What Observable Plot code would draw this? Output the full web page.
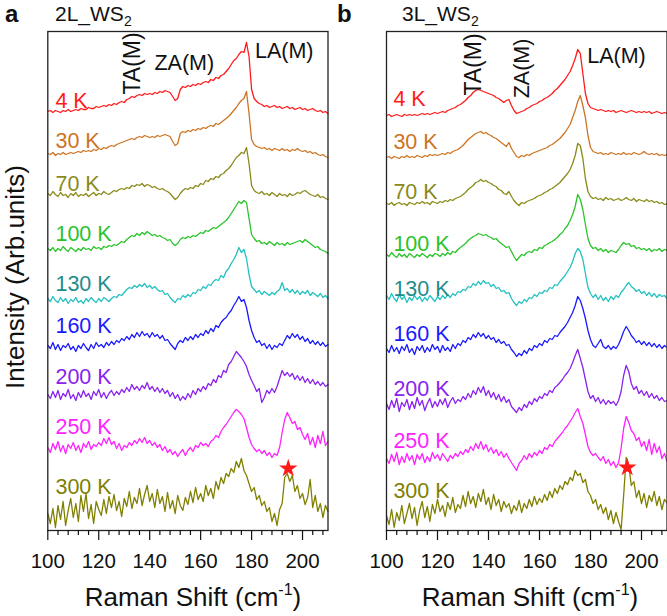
<!DOCTYPE html>
<html><head><meta charset="utf-8">
<script src="https://cdn.jsdelivr.net/npm/d3@7"></script>
<script src="https://cdn.jsdelivr.net/npm/@observablehq/plot@0.6"></script>
<style>
body{margin:0;background:#fff;}
#chart{position:relative;width:667px;height:616px;font-family:"Liberation Sans",Arial,sans-serif;}
#chart svg{position:absolute;top:0;overflow:visible;}
</style>
</head><body><div id="chart"></div>
<script>
// ---------- data ----------
const temps = ["4 K","30 K","70 K","100 K","130 K","160 K","200 K","250 K","300 K"];
const shift = d3.range(100, 211); // Raman shift grid, cm^-1 (1 cm^-1 step)
const majorTicks = [100,120,140,160,180,200];
const minorTicks = [104,108,112,116,124,128,132,136,144,148,152,156,164,168,172,176,184,188,192,196,204,208];

// panel a (2L_WS2) spectra, intensity relative to each trace's own baseline (arb.)
const a4 = [0,1,-1,1,0,-1,1,0,2,0, 1,2,1,3,2,2,4,3,3,5, 4,5,6,5,7,6,8,7,9,10, 9,12,13,15,14,16,17,16,18,17, 18,17,19,18,20,19,21,20,19,15, 11,13,22,25,24,26,25,27,26,28, 27,29,30,29,32,31,34,33,36,37, 40,43,47,51,53,57,60,59,69,55, 22,13,10,8,7,5,6,4,5,6, 4,5,3,4,5,3,4,2,3,4, 2,3,1,2,3,1,0,1,-1,0, -2];
const a30 = [0,-1,1,-2,0,-1,1,-1,0,1, 0,1,2,1,3,2,3,2,4,3, 5,4,6,5,7,8,7,9,10,11, 12,13,14,15,14,16,17,16,18,17, 16,17,16,18,17,18,19,18,17,12, 8,10,20,22,21,23,22,24,23,25, 24,26,25,27,28,27,30,29,31,33, 35,37,40,43,46,50,53,55,62,40, 14,9,7,6,5,6,4,5,3,5, 4,3,5,3,4,2,4,3,5,3, 2,3,1,2,0,1,-1,-2,-1,-3, -4];
const a70 = [0,-2,2,-1,-3,1,-2,-1,-4,0, -2,1,-3,-1,-2,0,-3,-1,1,-2, 0,-1,2,0,-1,1,3,2,4,5, 4,6,5,8,7,9,8,10,7,9, 8,6,7,5,4,5,3,2,0,-3, -6,-4,0,3,5,4,6,5,8,7, 10,9,13,12,15,14,17,16,19,20, 23,25,28,32,36,38,41,40,46,30, 8,3,1,0,2,-1,0,-2,1,-1, -3,0,-2,-1,-3,0,-2,-1,1,0, 2,3,1,-1,-2,-3,-1,-4,-3,-5, -6];
const a100 = [0,-2,1,-3,0,-2,2,-1,-3,1, -1,-3,0,-2,1,-1,0,-2,2,0, 1,-1,2,1,3,2,4,3,5,7, 6,9,11,13,12,15,13,16,14,17, 15,13,14,12,13,11,10,8,9,5, 3,5,9,11,10,12,11,13,12,14, 16,15,18,17,19,21,20,22,24,26, 28,31,35,39,43,47,45,48,46,30, 14,10,7,8,5,6,4,7,5,3, 6,4,5,3,6,4,5,6,7,8, 6,9,7,5,3,1,2,-1,-2,-3, -5];
const a130 = [0,-3,2,-2,-4,1,-3,0,-5,-1, -3,1,-4,-2,-5,0,-3,1,-2,-4, 0,-3,1,-1,-3,0,2,1,4,3, 6,9,11,10,13,11,14,12,15,11, 13,10,12,9,7,8,4,5,1,-2, -4,0,-1,3,1,4,2,6,5,9, 8,12,10,14,13,17,19,18,23,21, 27,30,35,39,44,51,46,49,40,24, 12,9,6,8,4,7,5,3,6,4, 7,9,16,8,10,6,9,5,8,4, 7,5,8,3,6,4,2,5,1,3, 0];
const a160 = [0,-3,3,-4,1,-5,0,-2,2,-4, -1,-6,0,-3,2,-2,-5,1,-3,3, -1,1,-2,3,0,4,1,5,3,7, 5,9,6,11,8,13,9,14,10,12, 8,13,9,11,7,10,5,6,2,-1, -4,2,5,3,8,5,9,6,11,8, 12,10,15,12,17,14,20,18,23,26, 28,32,35,40,44,49,44,46,38,25, 15,8,3,5,0,2,-3,1,-4,0, -2,2,0,5,10,7,12,8,11,6, 9,4,7,2,5,1,4,0,3,-1, 1];
const a200 = [0,-4,3,-3,4,-5,1,-2,5,-4, 0,-6,2,-3,4,-2,1,-5,3,-1, 5,-3,2,-4,1,4,-1,3,0,5, 2,7,3,10,5,8,4,9,6,12, 5,8,3,7,2,6,1,4,-2,2, -4,0,-6,-2,-5,1,-3,4,0,6, 3,8,5,11,9,15,12,19,17,24, 22,30,33,38,43,40,37,33,28,20, 14,9,3,6,-8,-3,4,1,6,2, 8,16,24,19,22,18,21,15,19,14, 18,12,16,11,15,10,13,9,12,8, 10];
const a250 = [0,-5,4,-2,6,-4,2,-6,3,-1, 5,-3,2,-5,4,0,6,-2,3,1, 5,2,9,4,10,3,6,-1,4,-3, 2,0,5,2,7,4,9,5,10,4, 7,2,5,0,3,-3,1,-5,-2,-7, -4,-9,-5,-2,-8,-3,0,-4,2,0, 5,2,4,1,6,8,12,10,16,20, 23,27,31,35,38,36,33,29,20,10, 3,-1,-4,-2,-6,-3,-8,-5,-10,-6, -8,0,15,28,35,30,24,26,18,20, 13,8,14,3,10,0,12,4,16,2, 6];
const a300 = [0,-10,5,-14,8,-6,12,-12,3,15, -4,10,-8,18,2,20,-5,9,-10,12, 4,-2,14,0,17,6,19,3,12,-3, 15,7,22,5,16,10,25,8,19,28, 12,20,6,24,10,17,2,21,5,13, 0,18,8,3,16,9,22,11,26,14, 20,12,28,18,25,15,32,24,36,30, 40,37,45,41,52,46,55,43,38,30, 22,26,14,18,8,12,2,6,-8,0, -12,4,10,36,40,32,38,22,28,15, 20,9,16,34,6,18,2,10,-4,8, 2];

// panel b (3L_WS2)
const b4 = [0,1,-1,0,1,0,-1,1,0,1, 0,1,0,1,2,1,2,1,2,3, 2,3,4,3,5,6,7,8,10,11, 13,15,18,20,23,25,26,25,24,23, 22,21,20,18,17,15,13,15,16,10, 5,2,3,4,5,7,8,10,11,12, 14,15,17,18,20,22,25,27,30,33, 36,40,44,50,57,66,62,42,22,12, 8,7,6,5,6,5,4,5,4,5, 3,4,5,4,3,4,5,4,3,4, 3,4,3,4,2,3,4,3,2,3, 2];
const b30 = [0,1,-1,1,0,-1,1,0,2,0, 1,0,2,1,0,2,1,3,2,3, 2,3,4,3,5,4,6,7,8,10, 12,15,18,20,22,24,25,26,24,25, 23,22,20,19,17,15,13,11,15,9, 5,1,0,2,1,3,2,4,5,6, 7,8,9,10,12,13,15,17,19,22, 25,29,33,40,47,56,62,52,40,22, 10,6,5,4,5,3,4,3,5,4, 3,4,3,5,3,4,3,5,4,3, 4,6,4,3,4,3,4,2,3,2, 3];
const b70 = [0,-1,1,-2,0,1,-1,0,-2,1, 0,-1,1,0,2,0,1,-1,2,1, 0,2,1,3,2,4,3,5,6,7, 9,11,14,16,18,21,22,24,22,23, 21,20,18,17,14,13,10,9,12,7, 3,0,-2,1,0,2,3,4,5,7, 8,9,11,12,14,15,17,19,21,24, 27,30,34,40,48,60,58,45,25,12, 7,5,6,4,5,3,6,4,5,3, 4,5,3,4,6,4,3,5,2,4, 3,2,4,2,3,1,2,0,1,-1, 0];
const b100 = [0,-2,2,-1,-3,1,-2,0,-3,1, -1,-3,0,-2,1,-1,-3,0,-2,1, 0,-2,1,-1,2,0,3,2,5,7, 9,11,14,16,18,19,21,20,19,20, 18,17,15,16,13,11,9,7,8,3, -2,-6,-3,0,-1,2,3,2,5,4, 7,6,9,10,12,13,15,17,20,22, 26,29,34,40,48,60,55,45,30,16, 9,6,7,4,6,3,5,2,4,3, 2,5,9,12,10,11,8,9,6,7, 5,6,4,6,3,5,4,6,3,5, 4];
const b130 = [0,-4,2,-3,-6,1,-4,-1,-7,-2, -5,0,-4,-1,-6,-2,-5,0,-3,-6, -1,-4,0,-3,1,-2,2,0,4,3, 6,5,9,8,12,10,14,11,15,12, 13,9,11,7,8,4,5,2,3,-3, -7,-10,-6,-8,-4,-6,-2,-3,1,-1, 3,2,5,4,8,7,11,10,14,17, 20,24,28,34,42,47,44,36,22,8, 2,-2,1,-4,0,-5,-2,-6,-1,-4, 0,-2,3,6,10,13,9,7,4,6, 2,4,0,3,-1,2,-2,1,-1,0, -3];
const b160 = [0,-4,3,-3,1,-5,2,-2,4,-4, 0,-6,2,-2,3,-4,1,-3,4,-1, 2,-4,3,-2,1,-3,4,0,5,3, 8,6,11,9,14,11,16,12,15,10, 13,9,11,6,9,5,7,3,4,-1, -4,-8,-5,-7,-2,-5,0,-2,3,1, 5,3,8,6,10,9,13,12,16,19, 22,26,31,36,43,52,48,40,30,18, 9,3,1,5,9,2,0,3,-1,2, 0,4,10,17,22,18,13,10,6,8, 4,7,3,6,2,5,1,4,0,3, 1];
const b200 = [0,-6,3,-4,5,-8,1,-3,4,-6, 2,-5,6,-2,3,-7,0,5,-4,2, -3,4,-1,5,-4,2,6,0,4,2, 7,4,10,6,13,9,16,11,17,8, 13,6,11,4,9,2,7,1,4,-3, -6,-9,-4,-7,-1,-4,2,-1,5,2, 7,5,10,8,13,11,16,18,21,24, 28,31,35,41,48,54,45,36,24,12, 5,8,2,6,0,4,-1,3,0,2, -2,3,12,28,38,32,20,14,17,10, 13,8,12,6,10,5,8,3,6,2, 3];
const b250 = [0,-5,4,-3,6,-6,2,-4,5,-2, 3,-6,4,-1,5,-4,2,-3,6,0, 4,-2,5,1,-3,3,0,5,2,7, 4,9,6,12,8,15,10,17,9,14, 7,11,5,9,3,7,1,5,0,-4, -8,-12,-5,-2,3,-1,5,1,6,3, 8,5,11,9,14,12,17,20,23,26, 30,33,37,41,46,50,42,35,24,12, 6,3,5,1,-2,2,-5,-1,-7,-3, -9,-4,10,30,42,36,28,25,18,21, 12,17,8,19,4,15,6,12,0,5, -3];
const b300 = [0,-9,6,-12,3,-5,10,-8,2,12, -3,8,-10,5,14,-2,9,-6,11,2, 16,4,10,-1,13,6,18,3,11,7, 20,9,24,12,19,8,22,14,26,11, 18,6,21,10,16,4,14,8,12,2, 10,5,15,3,12,7,16,9,19,11, 17,13,21,15,24,18,27,22,30,26, 34,31,38,35,45,40,42,33,36,24, 20,12,16,6,11,2,8,-4,5,-8, 3,-6,-14,20,58,50,30,34,18,25, 12,22,8,20,14,24,10,19,6,16, 13];

// stacking offsets of each trace (arb.)
const offsetsA = [419,377,337,282,232,185,136,83,17];
const offsetsB = [415,373,327,276,235,182,127,72,15];
// position of the marked peak (star)
const starShift = 194.4;
const starA = 62, starB = 63;

// ---------- styles / layout ----------
const lineColors  = ["#ff1a1a","#cc7422","#8a8a1a","#2ac32a","#22c0c0","#1a1aff","#8a22f0","#ff22ff","#808000"];
const labelColors = ["#ff1a1a","#cc7422","#8a8a1a","#2ac32a","#1f8c8c","#1a1aff","#8a22f0","#ff22ff","#808000"];
const labelYA = [423,383,340,290,240,198,147,97,37];
const labelYB = [425,382,332,280,235,190,135,83,33];
const FONT = "Liberation Sans, Arial, Helvetica, sans-serif";

function panel({series, offsets, labelX, labelY, width, marginLeft, marginRight, annotations, starY}) {
  const marks = [];
  series.forEach((vals, i) => {
    const rows = vals.map((v, j) => ({x: shift[j], y: v + offsets[i]}));
    marks.push(Plot.line(rows, {x: "x", y: "y", stroke: lineColors[i], strokeWidth: 1.3}));
    marks.push(Plot.text([temps[i]], {x: labelX, y: labelY[i], text: d => d, fill: labelColors[i],
      fontSize: 21.5, textAnchor: "start", lineAnchor: "bottom"}));
  });
  annotations.forEach(a => marks.push(Plot.text([a.t], {x: a.x, y: a.y, text: d => d, fill: "#111",
    fontSize: a.size || 21.5, rotate: a.rotate || 0, textAnchor: "middle", lineAnchor: "middle"})));
  marks.push(Plot.dot([starShift], {x: d => d, y: starY, symbol: "star", fill: "#ff1a1a", r: 5.8}));
  marks.push(Plot.frame({stroke: "#222", strokeWidth: 1.3}));
  marks.push(Plot.axisX({ticks: majorTicks, tickSize: 10, tickPadding: 13, fontSize: 20.5, tickFormat: d => d, label: null, strokeWidth: 1.2}));
  marks.push(Plot.axisX({ticks: minorTicks, tickSize: 5, tickFormat: () => "", label: null, strokeWidth: 1.2}));
  return Plot.plot({
    width, height: 616, marginTop: 31, marginBottom: 86, marginLeft, marginRight,
    x: {domain: [100, 210]},
    y: {domain: [0, 499], axis: null},
    style: {fontFamily: FONT, background: "transparent", color: "#111"},
    marks
  });
}

const chart = document.getElementById("chart");

const svgA = panel({
  series: [a4,a30,a70,a100,a130,a160,a200,a250,a300], offsets: offsetsA,
  labelX: 103.0, labelY: labelYA, width: 333, marginLeft: 47.3, marginRight: 5.5, starY: starA,
  annotations: [{t: "TA(M)", x: 133.3, y: 467, rotate: -90, size: 23}, {t: "ZA(M)", x: 153.6, y: 467}, {t: "LA(M)", x: 192.8, y: 479}]
});
svgA.style.left = "0px";
chart.appendChild(svgA);

const svgB = panel({
  series: [b4,b30,b70,b100,b130,b160,b200,b250,b300], offsets: offsetsB,
  labelX: 102.7, labelY: labelYB, width: 334, marginLeft: 53, marginRight: 0.5, starY: starB,
  annotations: [{t: "TA(M)", x: 134.0, y: 466, rotate: -90, size: 23}, {t: "ZA(M)", x: 153.0, y: 462, rotate: -90}, {t: "LA(M)", x: 190.2, y: 474}]
});
svgB.style.left = "333px";
chart.appendChild(svgB);

// titles and axis labels
function decorate(svg, letter, layer, xLetter, xTitle, xLabelCenter) {
  const s = d3.select(svg);
  s.append("text").attr("x", xLetter).attr("y", 22).attr("font-size", 24).attr("font-weight", "bold")
    .attr("text-anchor", "start").attr("font-family", FONT).attr("fill", "#111").text(letter);
  const t = s.append("text").attr("x", xTitle).attr("y", 21).attr("font-size", 21).attr("text-anchor", "start")
    .attr("font-family", FONT).attr("fill", "#111");
  t.append("tspan").text(layer + "L_WS");
  t.append("tspan").attr("font-size", 14).attr("dy", 5).text("2");
  const xl = s.append("text").attr("x", xLabelCenter).attr("y", 606).attr("font-size", 26)
    .attr("text-anchor", "middle").attr("font-family", FONT).attr("fill", "#111");
  xl.append("tspan").text("Raman Shift (cm");
  xl.append("tspan").attr("font-size", 16).attr("dy", -11).text("-1");
  xl.append("tspan").attr("dy", 11).text(")");
}
decorate(svgA, "a", "2", 5, 55, 193);
decorate(svgB, "b", "3", 4, 69, 197);
d3.select(svgA).append("text").attr("transform", "rotate(-90)").attr("x", -277).attr("y", 24)
  .attr("font-size", 26).attr("text-anchor", "middle").attr("font-family", FONT).attr("fill", "#111")
  .text("Intensity (Arb.units)");
</script>
</body></html>
